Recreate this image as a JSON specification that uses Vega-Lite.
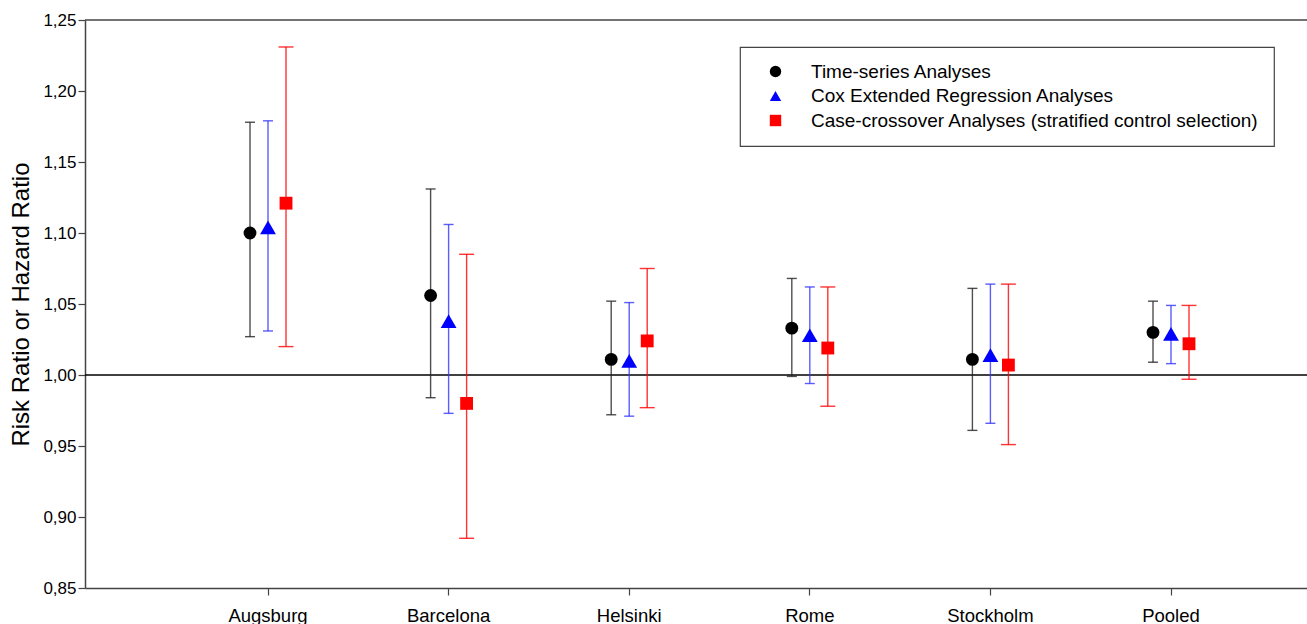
{
  "$schema": "https://vega.github.io/schema/vega-lite/v6.json",
  "width": 1222,
  "height": 568,
  "autosize": {"type": "none"},
  "padding": {"left": 85, "top": 20, "right": 0, "bottom": 36},
  "background": "white",
  "config": {
    "font": "Liberation Sans",
    "view": {"stroke": null},
    "axis": {"labelFont": "Liberation Sans", "titleFont": "Liberation Sans", "labelColor": "#000", "titleColor": "#000", "grid": false},
    "legend": {
      "orient": "none", "legendX": 655, "legendY": 27,
      "strokeColor": "#444", "strokeWidth": 1.2, "fillColor": "white", "padding": 15,
      "labelFontSize": 19, "labelFont": "Liberation Sans", "labelColor": "#000", "labelLimit": 600,
      "symbolSize": 130, "symbolOffset": 11, "labelOffset": 26, "rowPadding": 4.5, "symbolStrokeWidth": 0
    }
  },
  "resolve": {"scale": {"size": "independent"}},
  "data": {
    "values": [
      {"city": "Augsburg", "method": "Time-series Analyses", "est": 1.100, "lo": 1.027, "hi": 1.178},
      {"city": "Augsburg", "method": "Cox Extended Regression Analyses", "est": 1.104, "lo": 1.031, "hi": 1.179},
      {"city": "Augsburg", "method": "Case-crossover Analyses (stratified control selection)", "est": 1.121, "lo": 1.020, "hi": 1.231},
      {"city": "Barcelona", "method": "Time-series Analyses", "est": 1.056, "lo": 0.984, "hi": 1.131},
      {"city": "Barcelona", "method": "Cox Extended Regression Analyses", "est": 1.038, "lo": 0.973, "hi": 1.106},
      {"city": "Barcelona", "method": "Case-crossover Analyses (stratified control selection)", "est": 0.980, "lo": 0.885, "hi": 1.085},
      {"city": "Helsinki", "method": "Time-series Analyses", "est": 1.011, "lo": 0.972, "hi": 1.052},
      {"city": "Helsinki", "method": "Cox Extended Regression Analyses", "est": 1.010, "lo": 0.971, "hi": 1.051},
      {"city": "Helsinki", "method": "Case-crossover Analyses (stratified control selection)", "est": 1.024, "lo": 0.977, "hi": 1.075},
      {"city": "Rome", "method": "Time-series Analyses", "est": 1.033, "lo": 0.999, "hi": 1.068},
      {"city": "Rome", "method": "Cox Extended Regression Analyses", "est": 1.028, "lo": 0.994, "hi": 1.062},
      {"city": "Rome", "method": "Case-crossover Analyses (stratified control selection)", "est": 1.019, "lo": 0.978, "hi": 1.062},
      {"city": "Stockholm", "method": "Time-series Analyses", "est": 1.011, "lo": 0.961, "hi": 1.061},
      {"city": "Stockholm", "method": "Cox Extended Regression Analyses", "est": 1.014, "lo": 0.966, "hi": 1.064},
      {"city": "Stockholm", "method": "Case-crossover Analyses (stratified control selection)", "est": 1.007, "lo": 0.951, "hi": 1.064},
      {"city": "Pooled", "method": "Time-series Analyses", "est": 1.030, "lo": 1.009, "hi": 1.052},
      {"city": "Pooled", "method": "Cox Extended Regression Analyses", "est": 1.029, "lo": 1.008, "hi": 1.049},
      {"city": "Pooled", "method": "Case-crossover Analyses (stratified control selection)", "est": 1.022, "lo": 0.997, "hi": 1.049}
    ]
  },
  "encoding": {
    "x": {
      "field": "city", "type": "nominal", "sort": null,
      "scale": {"type": "band", "paddingInner": 0.701, "paddingOuter": 0.7337, "align": 0.5887},
      "axis": {"title": null, "labelAngle": 0, "labelFontSize": 18.5, "labelPadding": 11, "tickSize": 7, "tickColor": "#444", "tickWidth": 1.2, "domainColor": "#444", "domainWidth": 1.5, "tickBand": "center"}
    },
    "xOffset": {
      "field": "method", "type": "nominal", "sort": null,
      "scale": {"type": "point", "padding": 0.5, "domain": ["Time-series Analyses", "Cox Extended Regression Analyses", "Case-crossover Analyses (stratified control selection)"]}
    }
  },
  "layer": [
    {
      "data": {"values": [{"ref": 1}]},
      "mark": {"type": "rule", "color": "#000", "strokeWidth": 1.5},
      "encoding": {"xOffset": null, "x": null, "y": {"datum": 1.0, "type": "quantitative"}}
    },
    {
      "data": {"values": [{"ref": 1}]},
      "mark": {"type": "rule", "color": "#444", "strokeWidth": 1.5},
      "encoding": {"xOffset": null, "x": null, "y": {"datum": 1.25, "type": "quantitative"}}
    },
    {
      "mark": {"type": "rule", "strokeWidth": 1.4, "opacity": 0.8},
      "encoding": {
        "y": {"field": "lo", "type": "quantitative"},
        "y2": {"field": "hi"},
        "stroke": {"field": "method", "type": "nominal", "legend": null, "scale": {"range": ["#ff0000", "#3333ff", "#222222"]}}
      }
    },
    {
      "mark": {"type": "tick", "thickness": 1.4, "opacity": 0.8},
      "encoding": {
        "y": {"field": "lo", "type": "quantitative"},
        "fill": {"field": "method", "type": "nominal", "legend": null, "scale": {"range": ["#ff0000", "#3333ff", "#222222"]}},
        "size": {"field": "method", "type": "nominal", "legend": null, "scale": {"type": "ordinal", "range": [15, 10, 10]}}
      }
    },
    {
      "mark": {"type": "tick", "thickness": 1.4, "opacity": 0.8},
      "encoding": {
        "y": {"field": "hi", "type": "quantitative"},
        "fill": {"field": "method", "type": "nominal", "legend": null},
        "size": {"field": "method", "type": "nominal", "legend": null, "scale": {"type": "ordinal", "range": [15, 10, 10]}}
      }
    },
    {
      "mark": {"type": "point", "filled": true, "opacity": 1},
      "encoding": {
        "y": {
          "field": "est", "type": "quantitative",
          "scale": {"domain": [0.85, 1.25], "nice": false, "zero": false},
          "axis": {
            "title": "Risk Ratio or Hazard Ratio", "titleFontSize": 24, "titleFontWeight": "normal", "titlePadding": 9,
            "values": [0.85, 0.9, 0.95, 1.0, 1.05, 1.1, 1.15, 1.2, 1.25],
            "labelExpr": "replace(format(datum.value, '.2f'), '.', ',')",
            "labelFontSize": 17, "labelPadding": 2, "tickSize": 7, "tickColor": "#444", "tickWidth": 1.2,
            "domainColor": "#444", "domainWidth": 1.5
          }
        },
        "size": {"field": "method", "type": "nominal", "legend": null, "scale": {"type": "ordinal", "range": [165, 250, 165]}},
        "color": {
          "field": "method", "type": "nominal",
          "scale": {"domain": ["Time-series Analyses", "Cox Extended Regression Analyses", "Case-crossover Analyses (stratified control selection)"], "range": ["#000000", "#0000ff", "#ff0000"]},
          "legend": {"title": null}
        },
        "shape": {
          "field": "method", "type": "nominal",
          "scale": {"domain": ["Time-series Analyses", "Cox Extended Regression Analyses", "Case-crossover Analyses (stratified control selection)"], "range": ["circle", "triangle-up", "square"]},
          "legend": {"title": null}
        }
      }
    }
  ]
}
